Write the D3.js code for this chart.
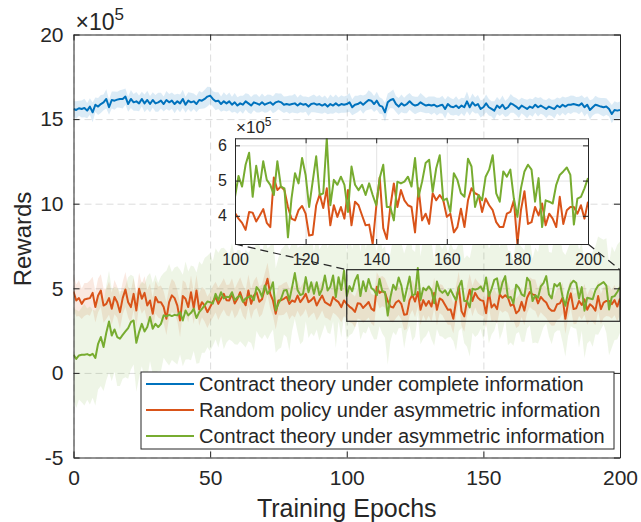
<!DOCTYPE html>
<html><head><meta charset="utf-8">
<script src="https://cdn.jsdelivr.net/npm/d3@7"></script>
<style>
body{margin:0;background:#fff;}
svg{display:block;font-family:"Liberation Sans",Arial,Helvetica,sans-serif;}
</style></head>
<body><svg id="c" width="641" height="522"></svg>
<script>
// ---------- data (values in units of 1e5) ----------
const seriesNames = ["Contract theory under complete information","Random policy under asymmetric information","Contract theory under asymmetric information"];
const seriesColors = ["#0072BD","#D95319","#77AC30"];
const xTicks = [0,50,100,150,200];
const yTicks = [-5,0,5,10,15,20];
const yTickLabels = ["-5","0","5","10","15","20"];
const insetXTicks = [100,120,140,160,180,200];
const insetYTicks = [4,5,6];
const insetYTickLabels = ["4","5","6"];
const zoomBox = [100,200,3.05,6.1];

const blueMean = [15.6,15.54,15.64,15.6,15.66,15.5,15.74,15.4,15.85,15.74,
15.89,15.99,16.19,15.7,16.13,16.09,16.15,16.19,16.19,16.33,
15.89,16.19,15.99,16.05,15.93,16.19,15.93,16.13,15.89,16.13,
15.93,15.99,16.09,15.89,16.13,15.99,16.09,15.89,16.05,15.93,
16.19,15.85,16.09,15.99,16.05,15.89,16.13,16.09,16.19,16.33,
16.39,16.19,16.05,16.09,15.89,16.05,15.93,16.05,15.85,15.99,
15.8,15.93,15.85,16.05,15.93,15.8,15.99,15.93,15.85,15.99,
15.85,15.93,15.99,15.85,15.99,16.05,15.99,15.85,15.89,15.85,
15.89,15.93,15.8,15.93,15.85,15.89,15.74,15.89,15.93,15.85,
15.89,15.8,15.89,15.74,15.89,15.8,15.93,15.8,15.89,15.85,
15.89,15.99,15.7,15.85,15.89,15.99,15.85,15.99,16.13,16.09,
15.89,16.09,15.8,15.74,15.4,15.99,16.13,16.19,15.89,15.74,
15.93,15.8,15.89,16.05,15.89,15.8,15.85,15.99,15.89,15.8,
15.85,15.8,15.85,15.74,15.8,15.85,15.6,15.89,15.74,15.7,
15.8,15.66,15.8,15.7,16.05,15.7,15.99,15.8,15.89,15.6,
15.7,15.93,15.7,15.6,15.5,15.8,15.66,15.85,15.6,15.7,
15.93,15.85,15.74,15.6,15.8,15.7,15.6,15.74,15.66,15.85,
15.7,15.8,15.7,15.6,15.74,15.66,15.6,15.8,15.7,15.85,
15.74,15.85,15.85,15.89,15.85,15.8,15.93,15.7,15.85,15.54,
15.7,15.85,15.8,15.74,15.7,15.74,15.6,15.3,15.54,15.5,
15.54];
const blueStd = [.47,.52,.44,.5,.55,.45,.49,.58,.43,.5,
.53,.47,.57,.45,.5,.54,.46,.52,.56,.48,
.45,.53,.49,.55,.47,.43,.52,.54,.48,.46,
.5,.56,.47,.44,.53,.49,.48,.55,.45,.52,
.54,.47,.5,.57,.46,.49,.53,.48,.55,.58,
.5,.46,.53,.49,.45,.54,.48,.52,.47,.55,
.49,.45,.53,.48,.56,.5,.47,.54,.46,.52,
.48,.53,.45,.5,.55,.47,.52,.49,.46,.54,
.5,.57,.47,.53,.48,.45,.55,.49,.52,.47,
.54,.48,.5,.46,.56,.49,.53,.47,.52,.48,
.5,.55,.47,.53,.49,.45,.54,.48,.57,.5,
.47,.53,.49,.46,.55,.52,.48,.56,.47,.5,
.53,.46,.54,.49,.48,.52,.47,.55,.5,.45,
.49,.54,.48,.52,.46,.53,.56,.47,.5,.48,
.55,.49,.46,.53,.58,.48,.52,.47,.54,.5,
.48,.53,.49,.45,.55,.5,.47,.54,.48,.52,
.56,.47,.5,.53,.46,.49,.55,.48,.52,.47,
.54,.49,.46,.53,.5,.48,.56,.47,.52,.49,
.53,.47,.55,.49,.46,.52,.48,.54,.5,.57,
.48,.53,.47,.5,.55,.49,.45,.54,.52,.48,
.5];
const redMean = [4.81,4.28,4.42,4.08,4.34,4.38,4.42,4.73,3.89,4.58,
4.87,3.98,4.08,4.42,3.79,4.48,4.18,3.59,4.42,4.93,
4.18,3.89,4.67,3.69,4.97,4.38,4.73,3.98,4.28,3.49,
4.48,4.18,4.18,3.89,3.2,4.18,4.58,4.42,3.98,3.1,
4.54,4.38,3.89,4.77,3.83,4.87,3.75,4.18,3.98,3.59,
3.89,4.2,4.48,4.08,4.38,4.67,4.3,4.28,4.67,4.1,
4.38,4.77,4.28,4.0,4.87,4.08,4.57,4.77,4.2,4.35,
4.97,5.56,4.67,4.28,3.49,4.28,4.3,4.38,4.5,4.08,
4.28,4.2,4.57,4.18,4.4,4.67,4.18,4.3,4.48,3.98,
4.3,4.57,4.18,4.08,3.98,4.48,4.3,4.18,3.89,4.28,
4.08,3.92,3.8,3.6,4.11,4.09,3.84,4.01,4.19,3.8,
3.68,5.09,4.73,4.83,4.73,4.25,3.92,3.87,4.16,4.28,
4.06,3.44,3.46,4.3,4.61,4.22,4.78,3.73,4.3,3.97,
4.25,3.92,4.73,3.73,4.4,4.3,4.01,3.73,3.75,3.2,
4.25,5.09,3.65,3.34,4.25,4.92,4.25,4.73,4.44,4.3,
4.25,3.53,4.78,3.87,4.06,3.77,4.64,4.44,4.59,4.44,
3.97,4.06,3.53,3.68,4.2,3.68,4.44,4.78,4.64,4.59,
4.11,4.49,4.3,4.16,3.82,3.68,3.68,4.06,4.11,4.44,
3.2,4.16,4.7,3.77,3.82,4.25,4.01,4.35,3.73,4.06,
3.92,3.68,4.54,3.77,4.16,4.25,4.25,4.06,4.3,3.92,
4.4];
const redStd = [1.0,.95,1.05,.9,.98,.93,1.04,.96,.91,1.0,
.96,1.02,.9,.98,.94,1.01,.92,.99,.95,1.04,
.91,.97,.94,1.0,.95,.89,.98,.93,1.01,.95,
.97,.91,.99,.94,.96,.9,.98,.95,.92,1.0,
.93,.96,.9,.98,.94,.92,.97,.89,.95,.93,
.88,.94,.91,.96,.9,.93,.89,.95,.92,.87,
.93,.89,.92,.87,.95,.9,.88,.93,.91,.89,
.92,.95,.88,.91,.93,.87,.9,.94,.89,.92,
.88,.93,.9,.86,.92,.89,.94,.87,.91,.89,
.93,.88,.91,.86,.9,.93,.87,.92,.89,.91,
.88,.93,.86,.91,.89,.94,.87,.9,.92,.88,
.91,.86,.93,.89,.87,.92,.9,.88,.93,.86,
.9,.92,.87,.91,.89,.93,.86,.9,.88,.92,
.87,.91,.89,.93,.86,.9,.92,.88,.91,.87,
.93,.89,.86,.91,.88,.92,.9,.87,.93,.89,
.91,.87,.9,.88,.93,.86,.92,.89,.91,.88,
.9,.93,.87,.91,.89,.86,.92,.88,.9,.93,
.87,.91,.89,.92,.86,.9,.88,.93,.89,.91,
.88,.92,.87,.9,.93,.89,.86,.91,.88,.92,
.9,.87,.93,.89,.91,.88,.92,.86,.9,.89,
.91];
const greenMean = [1.07,0.83,1.03,1.07,1.07,1.11,1.03,1.13,0.88,1.72,
2.12,1.53,2.37,3.04,2.21,2.57,2.12,2.02,2.25,2.45,
2.65,3.0,3.1,1.78,2.41,2.9,2.45,2.71,3.3,2.61,
2.9,2.71,2.9,3.4,3.34,3.43,3.36,3.43,3.4,3.59,
3.1,3.69,3.4,3.55,3.79,3.24,3.59,3.79,3.99,4.22,
4.18,4.1,4.67,4.3,4.77,4.4,4.5,4.47,4.77,4.3,
4.47,4.57,4.2,4.4,4.47,4.57,4.3,5.07,4.87,4.5,
5.17,4.67,4.9,5.36,3.69,4.1,4.4,4.87,4.9,4.3,
5.07,5.9,4.9,4.6,4.67,5.66,4.77,5.36,4.67,5.36,
4.6,4.97,5.76,4.87,5.1,5.76,4.48,5.66,4.9,6.05,
4.54,5.13,4.83,5.45,5.79,4.54,5.42,4.83,5.55,5.02,
4.88,4.59,5.55,4.83,4.78,3.39,4.49,5.21,4.92,5.64,
5.16,4.25,4.97,5.69,4.59,4.64,6.2,4.3,5.02,4.88,
5.11,4.88,4.11,5.4,4.88,4.73,4.88,4.59,4.92,4.59,
4.3,5.07,5.45,4.25,4.25,3.87,4.97,4.92,4.97,5.11,
4.83,5.64,4.54,4.97,5.5,5.59,4.68,5.35,5.72,4.44,
4.49,4.11,5.21,5.02,4.64,4.54,5.62,5.4,4.25,4.59,
4.44,5.11,5.31,5.72,4.64,4.4,5.26,5.11,5.31,4.49,
3.97,4.78,5.26,5.45,5.31,4.4,5.07,3.68,4.44,4.4,
4.35,4.88,5.16,5.26,5.37,5.16,3.75,4.49,4.54,4.78,
5.07];
const greenStd = [2.7,2.9,2.6,2.8,3.0,2.7,2.9,2.6,2.8,2.7,
2.9,2.6,2.8,3.0,2.7,2.5,2.9,2.8,2.6,2.7,
3.0,2.8,2.6,2.9,2.7,2.5,2.8,3.0,2.6,2.7,
2.9,2.6,2.8,2.5,2.7,3.0,2.6,2.8,2.9,2.5,
2.7,2.9,2.6,2.8,2.5,2.7,3.0,2.6,2.8,2.7,
2.9,2.5,2.7,2.8,2.6,3.0,2.7,2.5,2.9,2.6,
2.8,2.7,2.5,2.9,2.6,2.8,3.0,2.6,2.7,2.5,
2.9,2.7,2.6,2.8,2.5,2.7,2.9,2.6,2.8,3.0,
2.6,2.7,2.5,2.9,2.8,2.6,2.7,3.0,2.5,2.8,
2.7,2.6,2.9,2.5,2.8,2.7,3.0,2.6,2.8,2.7,
2.6,2.9,2.5,2.8,2.7,2.6,3.0,2.5,2.8,2.7,
2.9,2.6,2.8,2.5,2.7,2.9,2.6,2.8,2.7,3.0,
2.5,2.8,2.6,2.9,2.7,2.5,2.8,2.6,3.0,2.7,
2.6,2.9,2.5,2.8,2.7,2.6,2.9,2.5,2.8,2.7,
3.0,2.6,2.8,2.5,2.7,2.9,2.6,2.8,2.7,2.5,
2.9,2.6,2.8,2.7,3.0,2.5,2.7,2.9,2.6,2.8,
2.7,2.5,2.9,2.6,2.8,2.7,3.0,2.6,2.5,2.8,
2.7,2.9,2.6,2.8,2.5,2.7,2.9,2.6,2.8,2.7,
3.0,2.6,2.5,2.8,2.7,2.9,2.6,2.8,2.7,2.5,
2.8,2.6,2.9,2.7,2.5,2.8,2.7,3.0,2.6,2.8,
2.7];
const epochs = blueMean.map((_, i) => i);

// ---------- layout ----------
const svg = d3.select("#c");
const ink = "#262626";
const L = 73.5, R = 620, T = 34.5, B = 457.5;
const x = d3.scaleLinear().domain([0,200]).range([L,R]);
const y = d3.scaleLinear().domain([-5,20]).range([B,T]);

const series = [
  {mean: blueMean, std: blueStd},
  {mean: redMean, std: redStd},
  {mean: greenMean, std: greenStd}
];
const bandOpacity = [0.14, 0.13, 0.12];

svg.append("defs").append("clipPath").attr("id","clipMain")
  .append("rect").attr("x",L).attr("y",T).attr("width",R-L).attr("height",B-T);
svg.select("defs").append("clipPath").attr("id","clipInset")
  .append("rect").attr("x",235).attr("y",138.3).attr("width",588-235).attr("height",244-138.3);

// grid (dashed)
const grid = svg.append("g");
grid.append("g").attr("transform",`translate(0,${B})`)
  .call(d3.axisBottom(x).tickValues(xTicks).tickSize(-(B-T)).tickFormat(""))
  .call(g=>{g.select(".domain").remove(); g.selectAll("line").attr("stroke","#dcdcdc").attr("stroke-dasharray","7,4");});
grid.append("g").attr("transform",`translate(${L},0)`)
  .call(d3.axisLeft(y).tickValues(yTicks).tickSize(-(R-L)).tickFormat(""))
  .call(g=>{g.select(".domain").remove(); g.selectAll("line").attr("stroke","#dcdcdc").attr("stroke-dasharray","7,4");});

const plot = svg.append("g").attr("clip-path","url(#clipMain)");
series.forEach((s,k)=>{
  const area = d3.area().x((d,i)=>x(epochs[i])).y0((d,i)=>y(s.mean[i]-s.std[i])).y1((d,i)=>y(s.mean[i]+s.std[i]));
  plot.append("path").datum(s.mean).attr("d",area).attr("fill",seriesColors[k]).attr("fill-opacity",bandOpacity[k]);
});
series.forEach((s,k)=>{
  const line = d3.line().x((d,i)=>x(epochs[i])).y(d=>y(d));
  plot.append("path").datum(s.mean).attr("d",line).attr("fill","none").attr("stroke",seriesColors[k]).attr("stroke-width",2).attr("stroke-linejoin","round");
});

// main axes (ticks inward)
function styleAxis(g){ g.selectAll("path,line").attr("stroke",ink); g.selectAll("text").attr("fill",ink); }
const fs = 21;
svg.append("g").attr("transform",`translate(0,${B})`)
  .call(d3.axisBottom(x).tickValues(xTicks).tickSizeInner(-6).tickSizeOuter(0).tickPadding(13))
  .call(styleAxis).call(g=>g.selectAll("text").attr("font-size",fs).attr("font-family","Liberation Sans, Arial"));
svg.append("g").attr("transform",`translate(0,${T})`)
  .call(d3.axisTop(x).tickValues(xTicks).tickSizeInner(-6).tickSizeOuter(0).tickFormat(""))
  .call(styleAxis);
svg.append("g").attr("transform",`translate(${L},0)`)
  .call(d3.axisLeft(y).tickValues(yTicks).tickSizeInner(-6).tickSizeOuter(0).tickPadding(10).tickFormat((d,i)=>yTickLabels[i]))
  .call(styleAxis).call(g=>g.selectAll("text").attr("font-size",fs).attr("font-family","Liberation Sans, Arial"));
svg.append("g").attr("transform",`translate(${R},0)`)
  .call(d3.axisRight(y).tickValues(yTicks).tickSizeInner(-6).tickSizeOuter(0).tickFormat(""))
  .call(styleAxis);

// exponent
const ex = svg.append("text").attr("x",L+2).attr("y",T-5).attr("fill",ink).attr("font-size",23);
ex.append("tspan").text("\u00d710");
ex.append("tspan").attr("dy",-10).attr("font-size",17).text("5");

// axis labels
svg.append("text").attr("x",(L+R)/2).attr("y",517).attr("text-anchor","middle").attr("fill",ink).attr("font-size",25).text("Training Epochs");
svg.append("text").attr("transform",`translate(31,239) rotate(-90)`).attr("text-anchor","middle").attr("fill",ink).attr("font-size",24).text("Rewards");

// zoom rectangle + connectors
const xi = d3.scaleLinear().domain([100,200]).range([235,588]);
const yi = d3.scaleLinear().domain([3.2,6.2]).range([244,138.3]);
svg.append("rect").attr("x",x(zoomBox[0])).attr("y",y(zoomBox[3])).attr("width",x(zoomBox[1])-x(zoomBox[0])).attr("height",y(zoomBox[2])-y(zoomBox[3]))
  .attr("fill","none").attr("stroke",ink).attr("stroke-width",1.2);
svg.append("line").attr("x1",xi(100)).attr("y1",yi(3.2)).attr("x2",x(zoomBox[0])).attr("y2",y(zoomBox[3])).attr("stroke",ink).attr("stroke-width",1.2).attr("stroke-dasharray","8,5");
svg.append("line").attr("x1",xi(200)).attr("y1",yi(3.2)).attr("x2",x(zoomBox[1])).attr("y2",y(zoomBox[3])).attr("stroke",ink).attr("stroke-width",1.2).attr("stroke-dasharray","8,5");

// legend
const lg = svg.append("g");
lg.append("rect").attr("x",141).attr("y",372).attr("width",473).attr("height",77).attr("fill","#fff").attr("stroke",ink).attr("stroke-width",1);
seriesNames.forEach((n,k)=>{
  const yy = 384 + k*26;
  lg.append("line").attr("x1",146).attr("x2",194).attr("y1",yy).attr("y2",yy).attr("stroke",seriesColors[k]).attr("stroke-width",2);
  lg.append("text").attr("x",199).attr("y",yy+7).attr("fill",ink).attr("font-size",20).text(n);
});

// inset
const ins = svg.append("g");
ins.append("rect").attr("x",235).attr("y",138.3).attr("width",588-235).attr("height",244-138.3).attr("fill","#fff");
ins.append("g").attr("transform","translate(0,244)")
  .call(d3.axisBottom(xi).tickValues(insetXTicks).tickSize(-(244-138.3)).tickFormat(""))
  .call(g=>{g.select(".domain").remove(); g.selectAll("line").attr("stroke","#e3e3e3");});
ins.append("g").attr("transform","translate(235,0)")
  .call(d3.axisLeft(yi).tickValues(insetYTicks).tickSize(-(588-235)).tickFormat(""))
  .call(g=>{g.select(".domain").remove(); g.selectAll("line").attr("stroke","#e3e3e3");});
const ip = ins.append("g").attr("clip-path","url(#clipInset)");
[1,2].forEach(k=>{
  const s = series[k];
  const line = d3.line().defined((d,i)=>epochs[i]>=100).x((d,i)=>xi(epochs[i])).y(d=>yi(d));
  ip.append("path").datum(s.mean).attr("d",line).attr("fill","none").attr("stroke",seriesColors[k]).attr("stroke-width",2).attr("stroke-linejoin","round");
});
const ifs = 16;
ins.append("g").attr("transform","translate(0,244)")
  .call(d3.axisBottom(xi).tickValues(insetXTicks).tickSizeInner(-5).tickSizeOuter(0).tickPadding(10))
  .call(styleAxis).call(g=>g.selectAll("text").attr("font-size",ifs));
ins.append("g").attr("transform","translate(0,138.3)")
  .call(d3.axisTop(xi).tickValues(insetXTicks).tickSizeInner(-5).tickSizeOuter(0).tickFormat(""))
  .call(styleAxis);
ins.append("g").attr("transform","translate(235,0)")
  .call(d3.axisLeft(yi).tickValues(insetYTicks).tickSizeInner(-5).tickSizeOuter(0).tickPadding(8).tickFormat((d,i)=>insetYTickLabels[i]))
  .call(styleAxis).call(g=>g.selectAll("text").attr("font-size",ifs));
ins.append("g").attr("transform","translate(588,0)")
  .call(d3.axisRight(yi).tickValues(insetYTicks).tickSizeInner(-5).tickSizeOuter(0).tickFormat(""))
  .call(styleAxis);
const iex = ins.append("text").attr("x",236).attr("y",133).attr("fill",ink).attr("font-size",17);
iex.append("tspan").text("\u00d710");
iex.append("tspan").attr("dy",-7).attr("font-size",12).text("5");
</script></body></html>
